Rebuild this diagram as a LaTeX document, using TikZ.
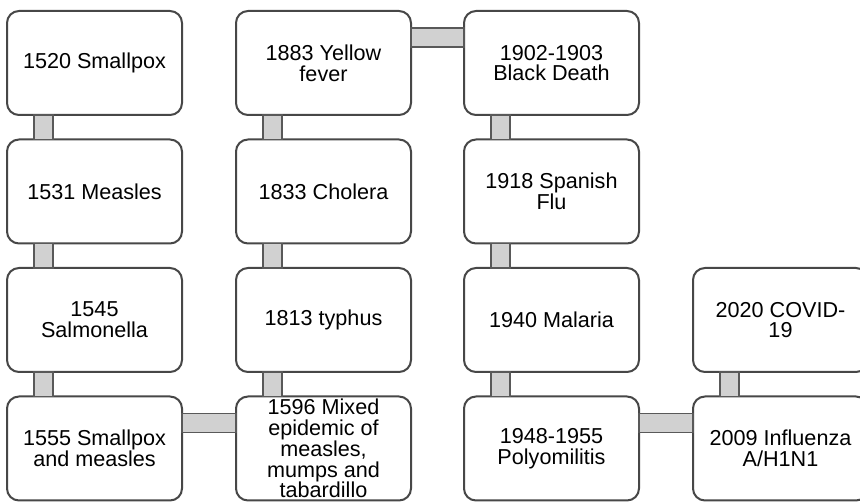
\documentclass[tikz,border=0pt]{standalone}
\usepackage{fontspec}
\setmainfont{Liberation Sans}
\usetikzlibrary{positioning}

\tikzset{
    event/.style={draw=black!72, line width=2pt, rounded corners=12pt, fill=white,
        minimum width=175pt, minimum height=104pt, outer sep=0pt,
        inner xsep=4pt, inner ysep=0pt, align=center,
        font=\fontsize{21.6}{20.8}\selectfont},
    link/.style={draw=black!65, line width=1.5pt, fill=black!18}
}

\begin{document}
\begin{tikzpicture}[x=1pt, y=1pt]
                \useasboundingbox (0,0) rectangle (860,-502);

                % prima colonna
                \node[event] (e1520) at (94.5,-63) {1520 Smallpox};
                \node[event] (e1531) [below=24.5pt of e1520] {1531 Measles};
                \node[event] (e1545) [below=24.5pt of e1531] {1545\\Salmonella};
                \node[event] (e1555) [below=24.5pt of e1545] {1555 Smallpox\\and measles};

                % seconda colonna
                \node[event] (e1596) [right=54pt of e1555] {1596 Mixed\\epidemic of\\measles,\\mumps and\\tabardillo};
                \node[event] (e1813) [above=24.5pt of e1596] {1813 typhus};
                \node[event] (e1833) [above=24.5pt of e1813] {1833 Cholera};
                \node[event] (e1883) [above=24.5pt of e1833] {1883 Yellow\\fever};

                % terza colonna
                \node[event] (e1902) [right=53pt of e1883] {1902-1903\\Black Death};
                \node[event] (e1918) [below=24.5pt of e1902] {1918 Spanish\\Flu};
                \node[event] (e1940) [below=24.5pt of e1918] {1940 Malaria};
                \node[event] (e1948) [below=24.5pt of e1940] {1948-1955\\Polyomilitis};

                % quarta colonna
                \node[event] (e2009) [right=54pt of e1948] {2009 Influenza\\A/H1N1};
                \node[event] (e2020) [above=24.5pt of e2009] {2020 COVID-\\19};

                % collegamenti verticali
                \foreach \a/\b in {e1520/e1531, e1531/e1545, e1545/e1555,
                                   e1883/e1833, e1833/e1813, e1813/e1596,
                                   e1902/e1918, e1918/e1940, e1940/e1948,
                                   e2020/e2009}
                    \draw[link] ([xshift=27pt]\a.south west) rectangle ([xshift=46pt]\b.north west);

                % collegamenti orizzontali
                \foreach \a/\b in {e1555/e1596, e1883/e1902, e1948/e2009}
                    \draw[link] ([yshift=-17pt]\a.north east) rectangle ([yshift=-36pt]\b.north west);
\end{tikzpicture}
\end{document}
